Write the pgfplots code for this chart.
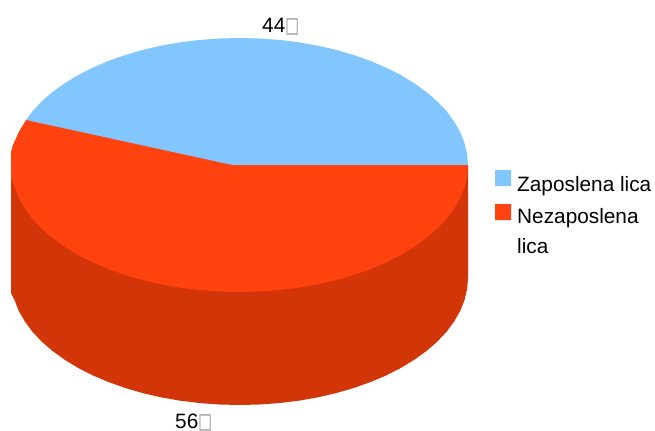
\documentclass[border=0pt]{standalone}
\usepackage{pgfplots}
\pgfplotsset{compat=1.18}
\usepackage{fontspec}
\setmainfont{Liberation Sans}
\newfontfamily\symfont{DejaVu Sans}
\definecolor{pieblue}{HTML}{82C6FF}
\definecolor{piered}{HTML}{FF420E}
\definecolor{pieside}{HTML}{D13508}
\newcommand{\boxglyph}{\scalebox{0.85}[1.25]{\fontsize{17}{18}\selectfont\textcolor{black!45}{\symfont\char"25A1}}}
\begin{document}
\begin{tikzpicture}
\begin{axis}[
  scale only axis, width=655pt, height=430pt,
  xmin=0, xmax=655, ymin=0, ymax=430, y dir=reverse,
  hide axis, clip=false,
  every axis plot/.append style={draw=none, line width=0pt}
]
\path (axis cs:0,0) rectangle (axis cs:655,430);
% side wall
\addplot[fill=pieside] coordinates {
(11,165)(11,293)(14.5,300.1)(18.8,310.9)(24.8,321.4)(32.4,331.7)(41.6,341.5)(52.3,350.8)(64.5,359.6)(77.9,367.8)(92.6,375.3)(108.4,382)(125.2,388)(142.9,393.1)(161.4,397.4)(180.4,400.7)(199.8,403.1)(219.6,404.5)(239.5,405)(259.4,404.5)(279.2,403.1)(298.6,400.7)(317.6,397.4)(336.1,393.1)(353.8,388)(370.6,382)(386.4,375.3)(401.1,367.8)(414.5,359.6)(426.7,350.8)(437.4,341.5)(446.6,331.7)(454.2,321.4)(460.2,310.9)(464.5,300.1)(467.1,289.1)(468,278)(468,165)(11,165)};
% blue wedge
\addplot[fill=pieblue] coordinates {
(232,170)(460,170)(468,165)(467.1,153.9)(464.5,142.9)(460.2,132.1)(454.2,121.6)(446.6,111.3)(437.4,101.5)(426.7,92.2)(414.5,83.4)(401.1,75.2)(386.4,67.7)(370.6,61)(353.8,55)(336.1,49.9)(317.6,45.6)(298.6,42.3)(279.2,39.9)(259.4,38.5)(239.5,38)(219.6,38.5)(199.8,39.9)(180.4,42.3)(161.4,45.6)(142.9,49.9)(125.2,55)(108.4,61)(92.6,67.7)(77.9,75.2)(64.5,83.4)(52.3,92.2)(41.6,101.5)(32.4,111.3)(26,120)(60,160)(232,170)};
% red wedge
\addplot[fill=piered] coordinates {
(232,165)(26,120)(18.8,132.1)(13,145)(11,152)(11,178)(14.5,187.1)(18.8,197.9)(24.8,208.4)(32.4,218.7)(41.6,228.5)(52.3,237.8)(64.5,246.6)(77.9,254.8)(92.6,262.3)(108.4,269)(125.2,275)(142.9,280.1)(161.4,284.4)(180.4,287.7)(199.8,290.1)(219.6,291.5)(239.5,292)(259.4,291.5)(279.2,290.1)(298.6,287.7)(317.6,284.4)(336.1,280.1)(353.8,275)(370.6,269)(386.4,262.3)(401.1,254.8)(414.5,246.6)(426.7,237.8)(437.4,228.5)(446.6,218.7)(454.2,208.4)(460.2,197.9)(464.5,187.1)(467.1,176.1)(468,165)(232,165)};
% legend swatches
\addplot[fill=pieblue] coordinates {(495,170)(511,170)(511,186)(495,186)(495,170)};
\addplot[fill=piered] coordinates {(495,204)(511,204)(511,220)(495,220)(495,204)};
\node[anchor=base west, inner sep=0pt, font=\fontsize{20.8}{22}\selectfont] at (axis cs:517,191) {Zaposlena lica};
\node[anchor=base west, inner sep=0pt, font=\fontsize{20.8}{22}\selectfont] at (axis cs:517,223) {Nezaposlena};
\node[anchor=base west, inner sep=0pt, font=\fontsize{20.8}{22}\selectfont] at (axis cs:517,253) {lica};
\node[anchor=base west, inner sep=0pt, font=\fontsize{20.8}{22}\selectfont] at (axis cs:262,32) {44\boxglyph};
\node[anchor=base west, inner sep=0pt, font=\fontsize{20.8}{22}\selectfont] at (axis cs:175,428) {56\boxglyph};
\end{axis}
\end{tikzpicture}
\end{document}
